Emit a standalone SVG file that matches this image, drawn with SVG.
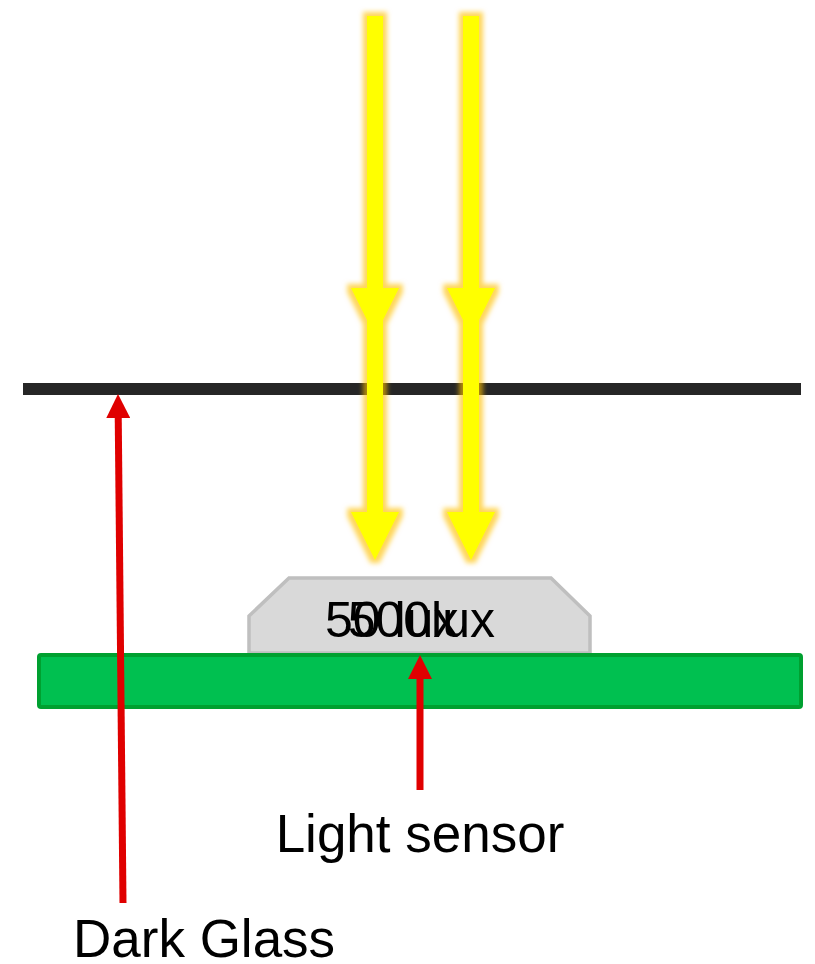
<svg xmlns="http://www.w3.org/2000/svg" width="815" height="964" viewBox="0 0 815 964">
  <style>
    .lbl { font-family: "Liberation Sans", Arial, sans-serif; fill: #000; }
    .big { font-size: 53px; }
    .lux { font-size: 50px; }
    .ray { fill: #FFFF00; }
    .red { stroke: #E00000; stroke-width: 7; fill: none; }
  </style>
  <defs>
    <filter id="glow" filterUnits="userSpaceOnUse" x="0" y="0" width="815" height="964">
      <feMorphology in="SourceAlpha" operator="dilate" radius="4" result="d"/>
      <feGaussianBlur in="d" stdDeviation="2.8" result="b"/>
      <feFlood flood-color="#FFC000" flood-opacity="0.65"/>
      <feComposite in2="b" operator="in" result="g"/>
      <feMerge>
        <feMergeNode in="g"/>
        <feMergeNode in="SourceGraphic"/>
      </feMerge>
    </filter>
    <marker id="redHead" markerUnits="userSpaceOnUse" viewBox="0 0 24 24" markerWidth="24" markerHeight="24" refX="0" refY="12" orient="auto">
      <path d="M0,0 L24,12 L0,24 z" fill="#E00000"/>
    </marker>
  </defs>

  <g id="glass">
    <rect x="23" y="383" width="778" height="12" fill="#262626"/>
  </g>

  <g id="sensor">
    <polygon points="249,653 249,616 289,578 551,578 590,616 590,653" fill="#D9D9D9" stroke="#BFBFBF" stroke-width="3.5"/>
    <text class="lbl lux" x="325" y="637">50 lux</text>
    <text class="lbl lux" x="495" y="637" text-anchor="end">500lux</text>
  </g>

  <g id="board">
    <rect x="39" y="655" width="762" height="52" rx="2" fill="#00C050" stroke="#00A030" stroke-width="4"/>
  </g>

  <g id="light-rays" filter="url(#glow)">
    <path class="ray" d="M367,16 H383 V288 H399 L375,336 L351,288 H367 Z"/>
    <path class="ray" d="M463,16 H479 V288 H495 L471,336 L447,288 H463 Z"/>
    <path class="ray" d="M367,16 H383 V512 H399 L375,560 L351,512 H367 Z"/>
    <path class="ray" d="M463,16 H479 V512 H495 L471,560 L447,512 H463 Z"/>
  </g>

  <g id="connectors">
    <line class="red" x1="123" y1="903" x2="118.24" y2="418" marker-end="url(#redHead)"/>
    <line class="red" x1="420" y1="790" x2="420" y2="679" marker-end="url(#redHead)"/>
  </g>

  <g id="labels">
    <text class="lbl big" x="420" y="852" text-anchor="middle">Light sensor</text>
    <text class="lbl big" x="73" y="957">Dark Glass</text>
  </g>
</svg>
